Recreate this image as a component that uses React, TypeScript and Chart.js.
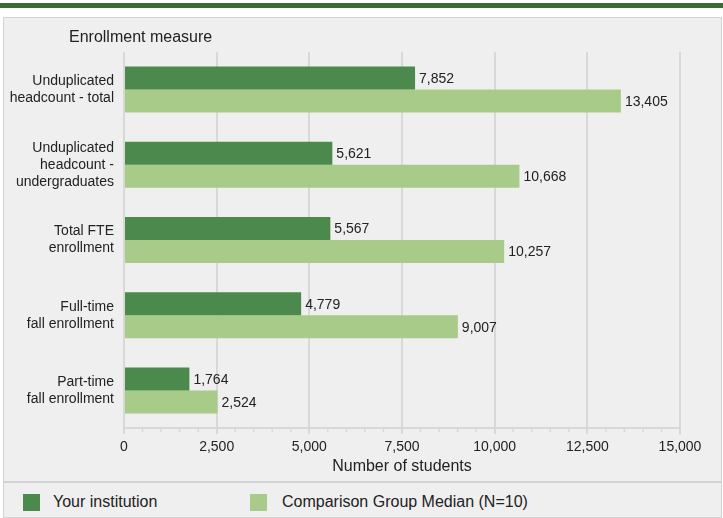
import React, { useEffect, useRef } from "react";
import { Chart, registerables } from "chart.js";

Chart.register(...registerables);

const categories: string[][] = [
  ["Unduplicated", "headcount - total"],
  ["Unduplicated", "headcount -", "undergraduates"],
  ["Total FTE", "enrollment"],
  ["Full-time", "fall enrollment"],
  ["Part-time", "fall enrollment"],
];
const yourInstitution = [7852, 5621, 5567, 4779, 1764];
const comparisonMedian = [13405, 10668, 10257, 9007, 2524];
const seriesNames = ["Your institution", "Comparison Group Median (N=10)"];
const xMin = 0;
const xMax = 15000;
const xMajorStep = 2500;
const xMinorStep = 500;

const DARK = "#4b894d";
const LIGHT = "#a9cb89";
const GRID = "#d8d8d8";
const FONT = "'Liberation Sans', Arial, sans-serif";
const TEXT = "#222222";

const minorTicksPlugin = {
  id: "minorTicks",
  afterDraw(chart: any) {
    const x = chart.scales.x;
    const ctx = chart.ctx;
    const y0 = chart.chartArea.bottom;
    ctx.save();
    ctx.strokeStyle = GRID;
    ctx.lineWidth = 1.5;
    for (let v = xMin; v <= xMax; v += xMinorStep) {
      if (v % xMajorStep === 0) continue;
      const px = x.getPixelForValue(v);
      ctx.beginPath();
      ctx.moveTo(px, y0);
      ctx.lineTo(px, y0 + 4);
      ctx.stroke();
    }
    ctx.restore();
  },
};

const valueLabelsPlugin = {
  id: "valueLabels",
  afterDatasetsDraw(chart: any) {
    const ctx = chart.ctx;
    ctx.save();
    ctx.font = `14px ${FONT}`;
    ctx.fillStyle = TEXT;
    ctx.textAlign = "left";
    ctx.textBaseline = "middle";
    chart.data.datasets.forEach((ds: any, i: number) => {
      const meta = chart.getDatasetMeta(i);
      meta.data.forEach((el: any, j: number) => {
        const v = ds.data[j] as number;
        ctx.fillText(v.toLocaleString("en-US"), el.x + 4, el.y + 1);
      });
    });
    ctx.restore();
  },
};

export default function App() {
  const ref = useRef<HTMLCanvasElement | null>(null);

  useEffect(() => {
    if (!ref.current) return;
    const chart = new Chart(ref.current, {
      type: "bar",
      data: {
        labels: categories,
        datasets: [
          {
            label: seriesNames[0],
            data: yourInstitution,
            backgroundColor: DARK,
            categoryPercentage: 0.612,
            barPercentage: 1,
          },
          {
            label: seriesNames[1],
            data: comparisonMedian,
            backgroundColor: LIGHT,
            categoryPercentage: 0.612,
            barPercentage: 1,
          },
        ],
      },
      options: {
        indexAxis: "y",
        responsive: false,
        animation: false,
        layout: { padding: { left: 0, top: 52, right: 43, bottom: 0 } },
        plugins: {
          legend: { display: false },
          tooltip: { enabled: false },
          title: { display: false },
        },
        scales: {
          x: {
            type: "linear",
            min: xMin,
            max: xMax,
            afterFit: (s: any) => {
              s.height = 54;
            },
            ticks: {
              stepSize: xMajorStep,
              color: TEXT,
              font: { family: FONT, size: 14 },
              padding: 5,
              maxRotation: 0,
              callback: (v: any) => Number(v).toLocaleString("en-US"),
            },
            grid: {
              color: GRID,
              lineWidth: 2,
              drawTicks: true,
              tickLength: 6,
              tickColor: GRID,
            },
            border: { display: true, color: GRID, width: 2 },
            title: {
              display: true,
              text: "Number of students",
              color: TEXT,
              font: { family: FONT, size: 16 },
              padding: { top: 4, bottom: 6 },
            },
          },
          y: {
            type: "category",
            afterFit: (s: any) => {
              s.width = 124;
            },
            ticks: {
              color: TEXT,
              font: { family: FONT, size: 14, lineHeight: 1.22 },
              padding: 10,
            },
            grid: { display: false, drawTicks: false },
            border: { display: false },
          },
        },
      },
      plugins: [minorTicksPlugin, valueLabelsPlugin],
    } as any);
    return () => chart.destroy();
  }, []);

  const legendText: React.CSSProperties = {
    position: "absolute",
    top: 492,
    fontFamily: FONT,
    fontSize: 16,
    color: TEXT,
    lineHeight: "20px",
    whiteSpace: "nowrap",
  };
  const legendBox: React.CSSProperties = {
    position: "absolute",
    top: 494,
    width: 17,
    height: 17,
  };

  return (
    <div
      style={{
        position: "absolute",
        left: 0,
        top: 0,
        width: 723,
        height: 518,
        background: "#ffffff",
        overflow: "hidden",
      }}
    >
      <div
        style={{
          position: "absolute",
          left: 0,
          top: 3,
          width: 723,
          height: 5,
          background: "#3e6a36",
        }}
      />
      <div
        style={{
          position: "absolute",
          left: 3,
          top: 17,
          width: 719,
          height: 501,
          boxSizing: "border-box",
          border: "1px solid #d3d3d3",
          background: "#efefef",
        }}
      />
      <div
        style={{
          position: "absolute",
          left: 4,
          top: 481,
          width: 717,
          height: 2,
          background: "#d3d3d3",
        }}
      />
      <canvas
        ref={ref}
        width={723}
        height={482}
        style={{ position: "absolute", left: 0, top: 0, width: 723, height: 482 }}
      />
      <div
        style={{
          position: "absolute",
          left: 69,
          top: 27,
          fontFamily: FONT,
          fontSize: 16,
          color: TEXT,
          lineHeight: "20px",
          whiteSpace: "nowrap",
        }}
      >
        Enrollment measure
      </div>
      <div style={{ ...legendBox, left: 23, background: DARK }} />
      <div style={{ ...legendText, left: 53 }}>{seriesNames[0]}</div>
      <div style={{ ...legendBox, left: 250, background: LIGHT }} />
      <div style={{ ...legendText, left: 282 }}>{seriesNames[1]}</div>
    </div>
  );
}
